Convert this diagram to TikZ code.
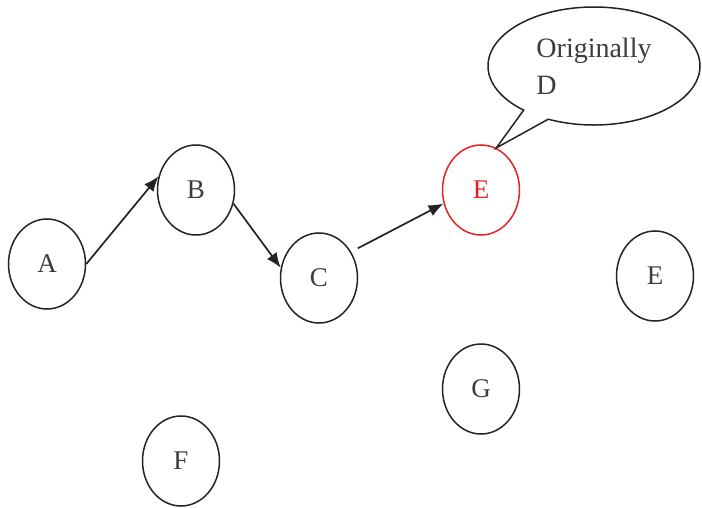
\documentclass[tikz,border=0pt]{standalone}
\usepackage{fontspec}
\setmainfont{Liberation Serif}
\usetikzlibrary{shapes.geometric,shapes.callouts,arrows.meta}
\definecolor{ink}{RGB}{35,35,35}
\definecolor{txt}{RGB}{60,60,60}
\definecolor{redE}{RGB}{225,35,35}
\begin{document}
\begin{tikzpicture}[x=1pt,y=-1pt,
  vtx/.style={ellipse,draw=ink,line width=1.5pt,minimum width=77pt,minimum height=90pt,inner sep=0pt,font=\fontsize{27}{30}\selectfont,text=txt},
  edge/.style={draw=ink,line width=1.7pt,-{Latex[length=15pt,width=12pt]}}]
\useasboundingbox (0,0) rectangle (702,508);
\node[vtx] (A) at (47,264) {A};
\node[vtx] (B) at (196,190) {B};
\node[vtx] (C) at (319,278) {C};
\node[vtx,draw=redE,text=redE] (E1) at (481,190) {E};
\node[vtx] (E2) at (655,276) {E};
\node[vtx] (G) at (481,389) {G};
\node[vtx] (F) at (181,461) {F};
\node[ellipse callout,draw=ink,line width=1.5pt,minimum width=212pt,minimum height=118pt,inner sep=0pt,
  callout absolute pointer={(E1.70)},callout pointer arc=16,
  align=left,font=\fontsize{28}{37}\selectfont,text=txt] (note) at (594,66) {Originally\\D};
\draw[edge] (A.east) -- (B.160);
\draw[edge] (B.-20) -- (C.165);
\draw[edge] ([shift={(7pt,3pt)}]C.40) -- (E1.-160);
\end{tikzpicture}
\end{document}
